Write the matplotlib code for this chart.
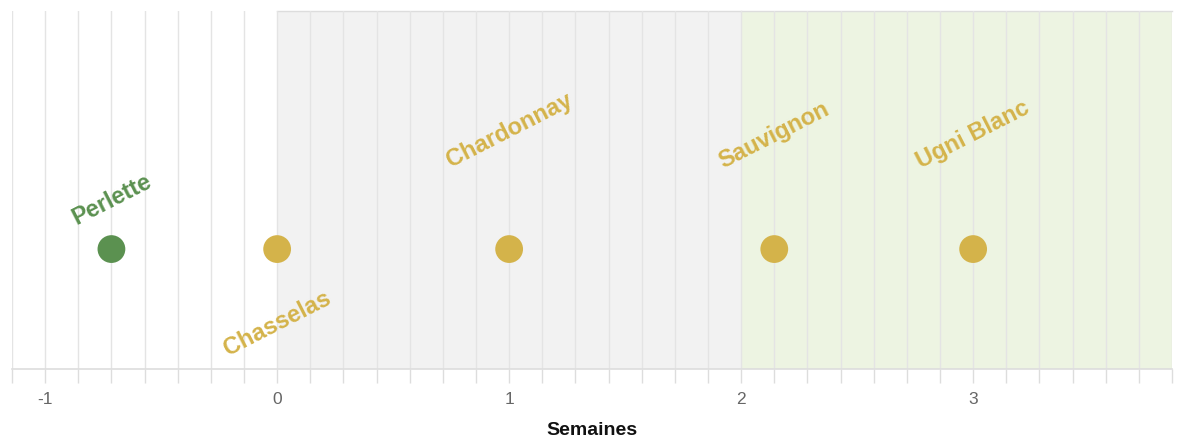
import matplotlib
matplotlib.use("Agg")
import matplotlib.pyplot as plt
import numpy as np

# Data
varieties = ["Perlette", "Chasselas", "Chardonnay", "Sauvignon", "Ugni Blanc"]
weeks = [-5/7, 0.0, 1.0, 2 + 1/7, 3.0]
colors = ["#5b9150", "#d4b34a", "#d4b34a", "#d4b34a", "#d4b34a"]
label_offsets_px = [(0, 50), (0, -74), (0, 120), (0, 115), (0, 115)]
tick_values = [-1, 0, 1, 2, 3]
tick_labels = ["-1", "0", "1", "2", "3"]
regions = [(0, 2, "#f2f2f2"), (2, 27/7, "#edf4e2")]
xmin, xmax = -8/7, 27/7

plt.rcParams['font.family'] = ['Liberation Sans', 'DejaVu Sans']

fig = plt.figure(figsize=(11.82, 4.39), dpi=100)
W, H = 1182, 439
ax = fig.add_axes([12/W, (H-370)/H, (1172-12)/W, (370-12)/H])
ax.set_xlim(xmin, xmax)
ax.set_ylim(0, 1)

for x0, x1, c in regions:
    ax.axvspan(x0, x1, color=c, zorder=0, lw=0)
    ax.plot([x0, x1], [1, 1], color="#dddddd", lw=1, zorder=1, clip_on=False)

minor = np.arange(-8, 28) / 7
for m in minor:
    ax.axvline(m, color="#e4e4e4", lw=1, zorder=1)

for s in ["top", "right", "left"]:
    ax.spines[s].set_visible(False)
ax.spines["bottom"].set_color("#dddddd")
ax.spines["bottom"].set_linewidth(1.2)
ax.set_yticks([])
ax.set_xticks(minor, minor=True)
ax.set_xticks(tick_values)
ax.set_xticklabels(tick_labels, fontsize=12.5, color="#666666")
ax.tick_params(axis="x", which="both", length=10, color="#dddddd", width=1, pad=6)
ax.set_xlabel("Semaines", fontsize=14, fontweight="bold", color="#111111", labelpad=11)

y_pt = 0.335
ax.scatter(weeks, [y_pt]*len(weeks), s=400, c=colors, zorder=3, edgecolors="none")

for name, x, c, (dx, dy) in zip(varieties, weeks, colors, label_offsets_px):
    ax.annotate(name, (x, y_pt), xytext=(dx*0.72, dy*0.72), textcoords="offset points",
                ha="center", va="center", rotation=27, rotation_mode="anchor",
                fontsize=17, fontweight="bold", color=c, zorder=4)

fig.savefig("out.png", dpi=100)
